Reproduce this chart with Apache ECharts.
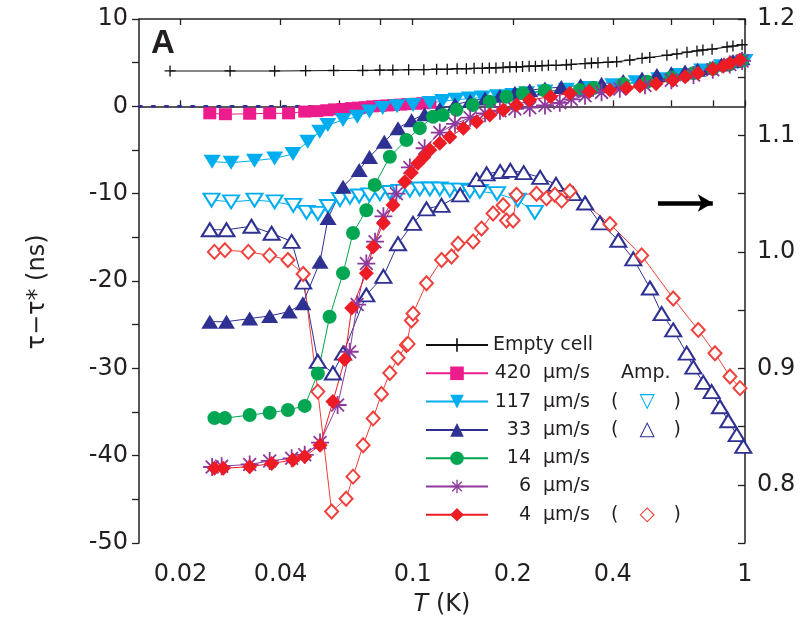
<!DOCTYPE html>
<html><head><meta charset="utf-8">
<script src="https://cdn.jsdelivr.net/npm/echarts@6.0.0/dist/echarts.min.js"></script>
<style>html,body{margin:0;padding:0;background:#fff}#c{width:806px;height:621px}</style>
</head><body><div id="c"></div>
<script>
// ---- tick values ----
const xTickValues = [0.02, 0.04, 0.06, 0.08, 0.1, 0.2, 0.4, 0.6, 0.8, 1];
const xLabelValues = [0.02, 0.04, 0.1, 0.2, 0.4, 1];

// ---- data: [T (K), tau - tau* (ns)] ----
const emptyCell = [[0.0186,4.05],[0.0282,4.05],[0.0384,4.05],[0.0476,4.08],[0.0578,4.1],[0.0707,4.1],[0.0796,4.15],[0.0871,4.15],[0.0972,4.2],[0.108,4.2],[0.118,4.25],[0.127,4.25],[0.136,4.3],[0.145,4.3],[0.153,4.35],[0.162,4.35],[0.170,4.4],[0.178,4.4],[0.187,4.45],[0.196,4.5],[0.205,4.5],[0.214,4.55],[0.224,4.6],[0.234,4.6],[0.245,4.65],[0.256,4.7],[0.27,4.7],[0.29,4.75],[0.30,4.8],[0.33,4.9],[0.345,4.95],[0.361,5.0],[0.387,5.05],[0.411,5.1],[0.45,5.3],[0.49,5.5],[0.517,5.6],[0.582,5.85],[0.624,6.0],[0.669,6.2],[0.717,6.35],[0.747,6.45],[0.796,6.55],[0.883,6.8],[0.92,6.9],[0.98,7.05]];
const zeroRef = [[0.015,0],[0.115,0]];
const v420 = [[0.0245,-0.8],[0.0273,-0.9],[0.0323,-0.85],[0.0371,-0.8],[0.0423,-0.8],[0.0473,-0.6],[0.0514,-0.55],[0.0551,-0.45],[0.0582,-0.35],[0.0616,-0.3],[0.0655,-0.2],[0.0687,-0.15],[0.072,-0.1],[0.0756,0],[0.0796,0.05],[0.0836,0.1],[0.0876,0.15],[0.092,0.2],[0.0966,0.25],[0.1023,0.3],[0.1073,0.35],[0.1126,0.4]];
const v117 = [[0.0249,-6.34],[0.0284,-6.45],[0.0334,-6.22],[0.0384,-5.96],[0.0436,-5.46],[0.0483,-4.05],[0.0525,-2.9],[0.0555,-2.14],[0.0617,-1.57],[0.0681,-1.19],[0.0741,-0.6],[0.0812,-0.2],[0.0897,0.0],[0.1002,0.15],[0.1126,0.38],[0.123,0.6],[0.135,0.75],[0.148,0.9],[0.162,1.0],[0.18,1.15],[0.2,1.3],[0.22,1.5],[0.25,1.7],[0.29,1.9],[0.34,2.1],[0.4,2.4],[0.47,2.75],[0.55,3.1],[0.64,3.6],[0.74,4.1],[0.85,4.6],[0.95,5.0],[1.0,5.2]];
const v33 = [[0.0245,-24.66],[0.0275,-24.66],[0.0323,-24.3],[0.0371,-24.0],[0.0425,-23.5],[0.0467,-22.56],[0.0526,-17.8],[0.0556,-12.8],[0.0617,-9.2],[0.069,-7.3],[0.0741,-5.8],[0.0821,-4.05],[0.0903,-2.5],[0.0992,-1.6],[0.1086,-0.9],[0.1206,-0.3],[0.134,0.2],[0.1489,0.6],[0.165,0.9],[0.183,1.2],[0.203,1.55],[0.225,1.85],[0.25,2.05],[0.28,2.2],[0.32,2.4],[0.37,2.6],[0.43,2.9],[0.49,3.2],[0.543,3.6],[0.6,3.8],[0.66,4.0],[0.72,4.2],[0.785,4.4],[0.85,4.8],[0.92,5.2],[0.98,5.5]];
const v14 = [[0.0253,-35.7],[0.0272,-35.7],[0.0323,-35.35],[0.0371,-35.08],[0.0421,-34.77],[0.0473,-34.3],[0.0518,-30.6],[0.0562,-24.1],[0.0617,-19.1],[0.0661,-14.5],[0.0725,-11.9],[0.0768,-9.0],[0.0853,-5.77],[0.0957,-3.86],[0.105,-2.5],[0.1151,-1.19],[0.1231,-1.0],[0.1354,-0.4],[0.1516,0.15],[0.1705,0.53],[0.1915,1.1],[0.2145,1.5],[0.25,1.8],[0.318,1.87],[0.35,2.1],[0.43,2.56],[0.507,2.82],[0.6,3.3],[0.7,3.8],[0.8,4.3],[0.9,4.8],[0.98,5.2]];
const v6 = [[0.0249,-41.3],[0.0266,-41.2],[0.0323,-41.0],[0.0371,-40.6],[0.0432,-40.3],[0.0473,-39.9],[0.0526,-38.5],[0.0594,-34.2],[0.0646,-28.1],[0.068,-22.7],[0.0725,-18.0],[0.077,-15.5],[0.0816,-12.6],[0.0893,-10.0],[0.098,-7.0],[0.1086,-4.8],[0.1206,-3.0],[0.134,-2.0],[0.1489,-1.3],[0.165,-0.8],[0.183,-0.5],[0.203,-0.3],[0.225,-0.15],[0.25,0.1],[0.277,0.4],[0.30,0.8],[0.33,1.2],[0.37,1.6],[0.42,2.0],[0.5,2.4],[0.6,3.0],[0.7,3.6],[0.8,4.2],[0.9,4.8],[0.98,5.2]];
const v4 = [[0.0253,-41.45],[0.0269,-41.45],[0.0323,-41.26],[0.0376,-40.9],[0.0436,-40.5],[0.0473,-40.1],[0.0526,-38.8],[0.0575,-33.8],[0.0624,-29.0],[0.0655,-23.1],[0.0725,-19.1],[0.076,-16.1],[0.0816,-13.4],[0.0872,-11.3],[0.0946,-8.63],[0.0990,-7.6],[0.1036,-6.53],[0.108,-5.8],[0.1126,-5.0],[0.1206,-4.24],[0.1293,-3.5],[0.142,-2.5],[0.1557,-1.76],[0.1706,-1.0],[0.1873,-0.42],[0.2053,0.15],[0.2249,0.72],[0.26,1.1],[0.297,1.5],[0.34,1.7],[0.392,1.87],[0.44,2.1],[0.483,2.33],[0.54,2.6],[0.607,3.0],[0.66,3.4],[0.722,3.78],[0.80,4.24],[0.86,4.6],[0.90,4.93],[0.965,5.3]];

// ---- amplitude data (right axis): [T (K), amplitude] ----
const amp117 = [[0.0248,1.0445],[0.0284,1.043],[0.0334,1.0445],[0.0384,1.043],[0.0437,1.040],[0.0479,1.034],[0.0518,1.033],[0.0556,1.039],[0.0604,1.045],[0.0647,1.047],[0.069,1.048],[0.0741,1.049],[0.0796,1.05],[0.0853,1.051],[0.0914,1.052],[0.098,1.053],[0.105,1.054],[0.1126,1.054],[0.1206,1.054],[0.1293,1.053],[0.1386,1.053],[0.1486,1.052],[0.1592,1.052],[0.1793,1.05],[0.207,1.0445],[0.233,1.034]];
const amp33 = [[0.0245,1.019],[0.0275,1.019],[0.0327,1.022],[0.0376,1.016],[0.0432,1.009],[0.0468,0.974],[0.0518,0.906],[0.0575,0.896],[0.0617,0.913],[0.0725,0.963],[0.0816,0.979],[0.0903,1.007],[0.1002,1.0245],[0.11,1.037],[0.1221,1.040],[0.1389,1.049],[0.1556,1.062],[0.1669,1.067],[0.1833,1.069],[0.1967,1.070],[0.2157,1.068],[0.2418,1.064],[0.2699,1.058],[0.3038,1.05],[0.3302,1.042],[0.366,1.025],[0.4156,1.010],[0.4612,0.994],[0.5175,0.969],[0.5612,0.947],[0.6081,0.933],[0.6677,0.913],[0.6989,0.901],[0.749,0.888],[0.7937,0.880],[0.8407,0.867],[0.8906,0.855],[0.9441,0.843],[0.9883,0.833]];
const amp4 = [[0.0253,1.0],[0.0272,1.0015],[0.032,1.0],[0.0371,0.997],[0.0421,0.993],[0.0468,0.981],[0.0518,0.880],[0.057,0.777],[0.063,0.788],[0.0661,0.807],[0.0709,0.834],[0.076,0.857],[0.0805,0.878],[0.0853,0.896],[0.0903,0.909],[0.0957,0.92],[0.0968,0.921],[0.0991,0.941],[0.1002,0.947],[0.11,0.973],[0.1221,0.993],[0.1308,0.996],[0.1369,1.007],[0.1519,1.009],[0.161,1.020],[0.1745,1.033],[0.1871,1.040],[0.1915,1.027],[0.2005,1.027],[0.2052,1.049],[0.2358,1.050],[0.2527,1.046],[0.2677,1.049],[0.2805,1.044],[0.2972,1.052],[0.3921,1.024],[0.4886,0.997],[0.6081,0.960],[0.7233,0.933],[0.8122,0.913],[0.9012,0.893],[0.9659,0.883]];

// arrow annotation (points to right axis), in data coords
const arrowFrom = [0.547, 1.042];
const arrowTo = [0.80, 1.042];

const FONT = 'DejaVu Sans';
const INK = '#231f20';
const C = {pink:'#ec1c8c', cyan:'#00aeef', navy:'#2e3192', green:'#00a651', purple:'#8e3a9d', red:'#ed1c24', ored:'#f0403c'};
const PLUS = 'path://M0,4.4H10V5.6H0Z M4.4,0H5.6V10H4.4Z';
const STAR = 'path://M0,4.5H10V5.5H0Z M4.5,0H5.5V10H4.5Z M1.1,1.8L1.8,1.1L8.9,8.2L8.2,8.9Z M8.2,1.1L8.9,1.8L1.8,8.9L1.1,8.2Z';

function S(name, data, color, symbol, size, extra) {
  return Object.assign({
    type: 'line', name, data, symbol, symbolSize: size,
    itemStyle: {color}, lineStyle: {color, width: 1},
    emphasis: {disabled: true}, silent: true
  }, extra || {});
}
function openS(name, data, color, symbol, size, extra) {
  return S(name, data, color, symbol, size, Object.assign({
    yAxisIndex: 1, itemStyle: {color, borderColor: color, borderWidth: 1.3}
  }, extra || {}));
}

// legend rich-text styles (all left-placed; numbers right-aligned via padding)
const DW = 12.1; // digit advance at 19px
function numStyle(k) { return {align: 'left', width: DW * k, padding: [0, 0, 0, 38 - DW * k], fontFamily: FONT, fontSize: 19, color: INK}; }
const legendRich = {
  n1: numStyle(1), n2: numStyle(2), n3: numStyle(3),
  u: {width: 68, align: 'left', padding: [0, 0, 0, 12], fontFamily: FONT, fontSize: 19, color: INK},
  a: {align: 'left', padding: [0, 0, 0, 10], fontFamily: FONT, fontSize: 19, color: INK},
  p: {align: 'left', fontFamily: FONT, fontSize: 19, color: INK},
  c: {width: 34, align: 'left', padding: [0, 0, 0, 21], fontFamily: FONT, fontSize: 20, color: C.cyan},
  b: {width: 34, align: 'left', padding: [0, 0, 0, 21], fontFamily: FONT, fontSize: 20, color: C.navy},
  r: {width: 34, align: 'left', padding: [0, 0, 0, 21], fontFamily: FONT, fontSize: 20, color: C.ored}
};
const legendExtra = {'420': '{a|Amp.}', '117': '{p|(}{c|▽}{p|)}', '33': '{p|(}{b|△}{p|)}', '4': '{p|(}{r|◇}{p|)}'};

const option = {
  animation: false,
  backgroundColor: '#fff',
  grid: {left: 139, right: 61, top: 19, bottom: 78, outerBoundsMode: 'none', containLabel: false},
  xAxis: [
    {type: 'log', min: 0.015, max: 1, position: 'bottom',
     name: '{i|T} (K)', nameLocation: 'middle', nameGap: 50,
     nameTextStyle: {fontFamily: FONT, fontSize: 24, color: INK,
       rich: {i: {fontFamily: FONT, fontSize: 24, fontStyle: 'italic', color: INK}}},
     axisLine: {show: true, lineStyle: {color: INK, width: 1.5}},
     axisTick: {show: true, inside: true, length: 6, customValues: xTickValues, lineStyle: {color: INK, width: 1.3}},
     axisLabel: {show: true, customValues: xLabelValues, margin: 20, fontFamily: FONT, fontSize: 24, color: INK,
       formatter: v => String(parseFloat(Number(v).toPrecision(4)))},
     splitLine: {show: false}, minorTick: {show: false}},
    {type: 'log', min: 0.015, max: 1, position: 'top',
     axisLine: {show: true, lineStyle: {color: INK, width: 1.5}},
     axisTick: {show: true, inside: true, length: 6, customValues: xTickValues, lineStyle: {color: INK, width: 1.3}},
     axisLabel: {show: false}, splitLine: {show: false}}
  ],
  yAxis: [
    {type: 'value', min: -50, max: 10, interval: 5, position: 'left',
     axisLine: {show: true, lineStyle: {color: INK, width: 1.5}},
     axisTick: {show: true, inside: false, length: 7, lineStyle: {color: INK, width: 1.3}},
     axisLabel: {margin: 11, fontFamily: FONT, fontSize: 24, color: INK,
       formatter: v => (Math.round(v) % 10 === 0 ? String(Math.round(v)) : '')},
     splitLine: {show: false}},
    {type: 'value', min: 0.75, max: 1.2, interval: 0.05, position: 'right',
     axisLine: {show: true, lineStyle: {color: INK, width: 1.5}},
     axisTick: {show: true, inside: true, length: 7, lineStyle: {color: INK, width: 1.3}},
     axisLabel: {margin: 12, fontFamily: FONT, fontSize: 24, color: INK,
       formatter: v => { const t = Math.round(v * 20); return (t % 2 === 0 && t > 15) ? (t / 20).toFixed(1) : ''; }},
     splitLine: {show: false}}
  ],
  legend: {
    orient: 'vertical', left: 420, top: 330, itemWidth: 62, itemHeight: 17, itemGap: 8.3,
    selectedMode: false,
    textStyle: {fontFamily: FONT, fontSize: 19, color: INK, lineHeight: 20, rich: legendRich},
    data: ['Empty cell', '420 μm/s', '117 μm/s', '33 μm/s', '14 μm/s', '6 μm/s', '4 μm/s'],
    formatter: name => {
      if (name === 'Empty cell') return name;
      const parts = name.split(' ');
      return '{n' + parts[0].length + '|' + parts[0] + '}{u|' + parts[1] + '}' + (legendExtra[parts[0]] || '');
    }
  },
  graphic: [
    {type: 'text', left: 151, top: 27, silent: true,
     style: {text: 'A', font: 'bold 33px "Liberation Sans", Arial, sans-serif', fill: INK}},
    {type: 'text', x: 38, y: 292, rotation: Math.PI / 2, silent: true,
     style: {text: 'τ−τ* (ns)', align: 'center', verticalAlign: 'middle', font: '24px "DejaVu Sans"', fill: INK}}
  ],
  series: [
    S('zero', zeroRef, C.navy, 'none', 0, {lineStyle: {color: C.navy, width: 2.6, type: [2.6, 10.5], cap: 'round'}, z: 1}),
    S('Empty cell', emptyCell, '#111', PLUS, 11, {lineStyle: {color: '#111', width: 1.1}}),
    openS('117 amp', amp117, C.cyan, 'emptyTriangle', [16, 13], {symbolRotate: 180}),
    openS('33 amp', amp33, C.navy, 'emptyTriangle', [16, 13], {
      markLine: {silent: true, symbol: ['none', 'arrow'], symbolSize: [13, 15], animation: false,
        label: {show: false}, emphasis: {disabled: true},
        lineStyle: {color: '#000', width: 4.5, type: 'solid'},
        data: [[{coord: arrowFrom}, {coord: arrowTo}]]}
    }),
    openS('4 amp', amp4, C.ored, 'emptyDiamond', [13, 14]),
    S('420 μm/s', v420, C.pink, 'rect', [13, 12]),
    S('117 μm/s', v117, C.cyan, 'triangle', [17, 14], {symbolRotate: 180}),
    S('33 μm/s', v33, C.navy, 'triangle', [17, 14]),
    S('14 μm/s', v14, C.green, 'circle', 14),
    S('6 μm/s', v6, C.purple, STAR, 18),
    S('4 μm/s', v4, C.red, 'diamond', [15, 15])
  ]
};

const chart = echarts.init(document.getElementById('c'), null, {renderer: 'canvas'});
chart.setOption(option);
</script>
</body></html>
